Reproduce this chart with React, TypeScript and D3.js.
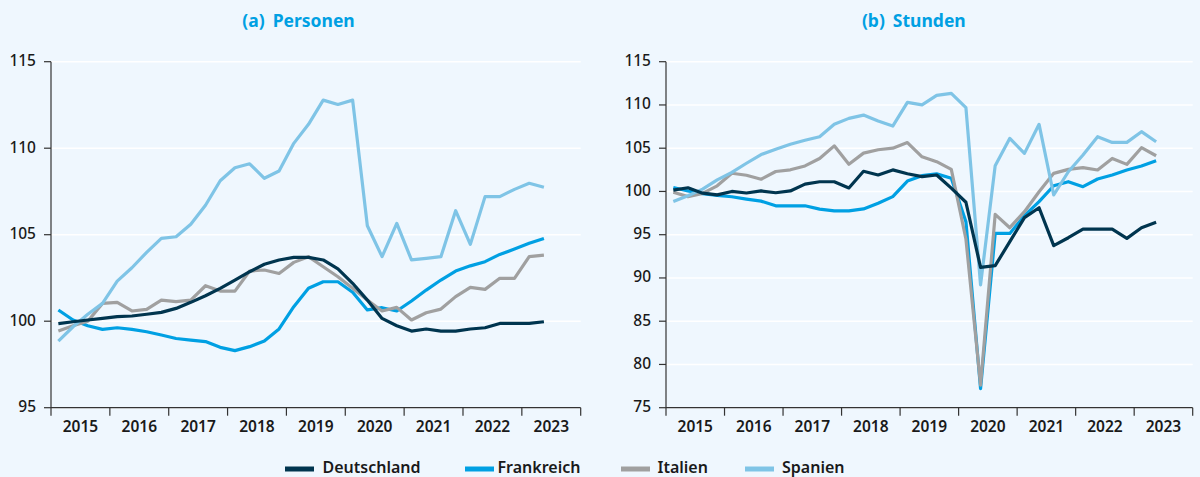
import React from 'react';
import * as d3 from 'd3';

// ---------- data ----------
const years = ['2015', '2016', '2017', '2018', '2019', '2020', '2021', '2022', '2023'];
const seriesNames = ['Deutschland', 'Frankreich', 'Italien', 'Spanien'];
const seriesColors = ['#00354f', '#00a0e3', '#a0a0a0', '#7fc4e6'];

// (a) Personen, quarterly 2015Q1 .. 2023Q2
const personenDE = [99.86, 99.97, 100.07, 100.16, 100.26, 100.3, 100.4, 100.51, 100.74, 101.09, 101.47, 101.9, 102.38, 102.86, 103.29, 103.54, 103.69, 103.69, 103.54, 103.02, 102.19, 101.22, 100.16, 99.74, 99.43, 99.55, 99.43, 99.43, 99.55, 99.62, 99.87, 99.87, 99.87, 99.97];
const personenFR = [100.65, 100.07, 99.74, 99.53, 99.62, 99.53, 99.39, 99.2, 99.0, 98.91, 98.82, 98.49, 98.3, 98.53, 98.85, 99.55, 100.84, 101.9, 102.28, 102.28, 101.67, 100.65, 100.78, 100.59, 101.17, 101.8, 102.38, 102.9, 103.2, 103.44, 103.86, 104.17, 104.5, 104.78];
const personenIT = [99.43, 99.74, 100.0, 101.03, 101.09, 100.59, 100.68, 101.22, 101.13, 101.22, 102.05, 101.74, 101.74, 102.9, 102.96, 102.76, 103.4, 103.73, 103.15, 102.57, 101.9, 101.22, 100.59, 100.8, 100.07, 100.49, 100.7, 101.42, 101.96, 101.84, 102.48, 102.48, 103.73, 103.82];
const personenES = [98.85, 99.68, 100.4, 101.03, 102.32, 103.09, 103.98, 104.79, 104.88, 105.6, 106.7, 108.12, 108.87, 109.1, 108.26, 108.68, 110.28, 111.38, 112.78, 112.53, 112.78, 105.52, 103.73, 105.65, 103.54, 103.63, 103.73, 106.39, 104.44, 107.2, 107.2, 107.62, 107.97, 107.74];

// (b) Stunden
const stundenDE = [100.16, 100.43, 99.8, 99.6, 100.0, 99.82, 100.06, 99.85, 100.06, 100.85, 101.12, 101.12, 100.4, 102.33, 101.91, 102.49, 102.05, 101.71, 101.9, 100.38, 98.75, 91.22, 91.42, 94.2, 96.97, 98.12, 93.73, 94.65, 95.65, 95.65, 95.65, 94.58, 95.81, 96.43];
const stundenFR = [100.45, 100.05, 99.75, 99.55, 99.39, 99.12, 98.88, 98.34, 98.34, 98.34, 97.96, 97.75, 97.75, 97.98, 98.63, 99.4, 101.2, 101.82, 102.03, 101.53, 96.5, 77.2, 95.15, 95.15, 97.2, 98.82, 100.66, 101.13, 100.55, 101.44, 101.9, 102.48, 102.94, 103.55];
const stundenIT = [99.9, 99.4, 99.78, 100.65, 102.1, 101.87, 101.41, 102.31, 102.5, 102.95, 103.81, 105.27, 103.14, 104.43, 104.82, 105.0, 105.65, 104.0, 103.44, 102.55, 94.5, 77.6, 97.35, 95.81, 97.66, 99.97, 102.09, 102.55, 102.75, 102.48, 103.82, 103.13, 105.06, 104.13];
const stundenES = [98.83, 99.5, 100.27, 101.33, 102.2, 103.26, 104.27, 104.87, 105.45, 105.91, 106.33, 107.76, 108.45, 108.83, 108.14, 107.56, 110.3, 110.0, 111.1, 111.34, 109.7, 89.2, 102.98, 106.14, 104.4, 107.76, 99.59, 102.28, 104.21, 106.33, 105.67, 105.67, 106.91, 105.75];

const personenTicks = [95, 100, 105, 110, 115];
const stundenTicks = [75, 80, 85, 90, 95, 100, 105, 110, 115];

const FONT = "'Noto Sans', 'DejaVu Sans', sans-serif";
const BG = '#eff7fe';

// draw order: Frankreich, Italien, Spanien, Deutschland
const drawOrder = [1, 2, 3, 0];

type PanelProps = {
  title: string;
  label: string;
  titleX: number;
  left: number;
  right: number;
  domain: [number, number];
  ticks: number[];
  series: number[][];
};

function Panel({ title, label, titleX, left, right, domain, ticks, series }: PanelProps) {
  const top = 61.7;
  const bottom = 407.7;
  const x = d3.scaleLinear().domain([2015, 2024]).range([left, right]);
  const y = d3.scaleLinear().domain(domain).range([bottom, top]);
  const line = d3
    .line<number>()
    .x((_, i) => x(2015 + (i + 0.5) / 4))
    .y((d) => y(d));
  const yearTicks = d3.range(2015, 2025);
  return (
    <g>
      <text x={titleX} y={27} textAnchor="middle" fontFamily={FONT} fontWeight={700} fontSize={17.5} fill="#00a0e3">
        <tspan>{label}</tspan>
        <tspan dx={8}>{title}</tspan>
      </text>
      {ticks.map((t) => (
        <line key={'g' + t} x1={left} x2={right} y1={y(t)} y2={y(t)} stroke="#ffffff" strokeWidth={1.5} />
      ))}
      {drawOrder.map((k) => (
        <path key={k} d={line(series[k]) || ''} fill="none" stroke={seriesColors[k]} strokeWidth={3.2} strokeLinejoin="round" />
      ))}
      <line x1={left} x2={left} y1={top} y2={bottom} stroke="#333" strokeWidth={1.2} />
      <line x1={left} x2={right} y1={bottom} y2={bottom} stroke="#333" strokeWidth={1.2} />
      {ticks.map((t) => (
        <g key={'t' + t}>
          <line x1={left - 7} x2={left} y1={y(t)} y2={y(t)} stroke="#333" strokeWidth={1.2} />
          <text x={left - 15} y={y(t) - 1} dy="0.35em" textAnchor="end" fontFamily={FONT} fontWeight={500} fontSize={15.5} fill="#1a1a1a">
            {t}
          </text>
        </g>
      ))}
      {yearTicks.map((yr) => (
        <line key={'x' + yr} x1={x(yr)} x2={x(yr)} y1={bottom} y2={bottom + 8} stroke="#333" strokeWidth={1.2} />
      ))}
      {years.map((yr, i) => (
        <text key={yr} x={x(2015 + i + 0.5)} y={431.5} textAnchor="middle" fontFamily={FONT} fontWeight={600} fontSize={15.5} fill="#1a1a1a">
          {yr}
        </text>
      ))}
    </g>
  );
}

const legendLineX = [285, 465, 621, 745];
const legendTextX = [322.5, 497.5, 657.5, 782];

export default function App() {
  return (
    <svg width={1200} height={477} style={{ position: 'absolute', left: 0, top: 0 }}>
      <rect x={0} y={0} width={1200} height={477} fill={BG} />
      <Panel
        title="Personen"
        label="(a)"
        titleX={298.5}
        left={51}
        right={580.7}
        domain={[95, 115]}
        ticks={personenTicks}
        series={[personenDE, personenFR, personenIT, personenES]}
      />
      <Panel
        title="Stunden"
        label="(b)"
        titleX={913.8}
        left={666}
        right={1192.7}
        domain={[75, 115]}
        ticks={stundenTicks}
        series={[stundenDE, stundenFR, stundenIT, stundenES]}
      />
      {seriesNames.map((n, k) => (
        <g key={n}>
          <line x1={legendLineX[k]} x2={legendLineX[k] + 29} y1={469} y2={469} stroke={seriesColors[k]} strokeWidth={5} />
          <text x={legendTextX[k]} y={473} fontFamily={FONT} fontWeight={600} fontSize={16} fill="#1a1a1a">
            {n}
          </text>
        </g>
      ))}
    </svg>
  );
}
